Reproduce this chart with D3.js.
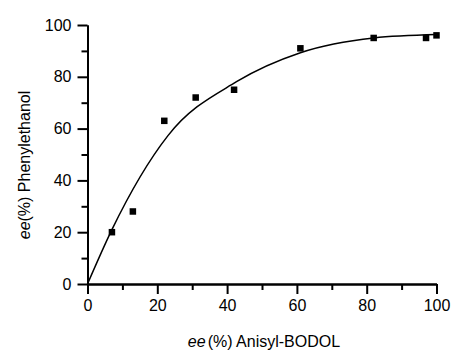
<!DOCTYPE html>
<html>
<head>
<meta charset="utf-8">
<script src="https://cdn.jsdelivr.net/npm/d3@7"></script>
<style>
  body { margin: 0; background: #fff; }
  svg { display: block; font-family: "Liberation Sans", Arial, sans-serif; }
</style>
</head>
<body>
<div id="graph"></div>
<script>
// measured points: ee of auxiliary (x) vs ee of product (y)
const eeAux = [7, 13, 22, 31, 42, 61, 82, 97, 100];
const eeProduct = [20, 28, 63, 72, 75, 91, 95, 95, 96];

// fitted curve
const fitX = [0, 7, 23, 42.7, 61, 82, 100];
const fitY = [0, 21, 57.2, 78.1, 89.3, 95, 96.3];

const majorTicks = [0, 20, 40, 60, 80, 100];
const minorTicks = [10, 30, 50, 70, 90];

const width = 453, height = 351;

const svg = d3.select("#graph")
  .append("svg")
  .attr("width", width)
  .attr("height", height);

const x = d3.scaleLinear().domain([0, 100]).range([87.5, 436.5]);
const y = d3.scaleLinear().domain([0, 100]).range([284, 25]);

// minor ticks first, then major axes on top
svg.append("g")
  .attr("transform", "translate(0,284)")
  .call(d3.axisBottom(x).tickValues(minorTicks).tickSize(6).tickSizeOuter(0).tickFormat(""));

svg.append("g")
  .attr("transform", "translate(87.5,0)")
  .call(d3.axisLeft(y).tickValues(minorTicks).tickSize(6).tickSizeOuter(0).tickFormat(""));

svg.append("g")
  .attr("transform", "translate(0,284)")
  .call(d3.axisBottom(x).tickValues(majorTicks).tickSize(10).tickSizeOuter(0).tickPadding(6));

svg.append("g")
  .attr("transform", "translate(87.5,0)")
  .call(d3.axisLeft(y).tickValues(majorTicks).tickSize(10).tickSizeOuter(0).tickPadding(6));

svg.selectAll(".domain, .tick line")
  .attr("stroke", "#000")
  .attr("stroke-width", 2);

svg.selectAll(".tick text")
  .attr("fill", "#000")
  .style("font-size", "16px")
  .style("font-family", "'Liberation Sans', Arial, sans-serif");

// fitted curve
const line = d3.line()
  .x((d, i) => x(fitX[i]))
  .y((d, i) => y(fitY[i]))
  .curve(d3.curveMonotoneX);

svg.append("path")
  .datum(fitX)
  .attr("d", line)
  .attr("fill", "none")
  .attr("stroke", "#000")
  .attr("stroke-width", 1.5);

// square markers
const s = 6.5;
svg.selectAll("rect.pt")
  .data(eeAux)
  .enter()
  .append("rect")
    .attr("class", "pt")
    .attr("x", (d) => x(d) - s / 2)
    .attr("y", (d, i) => y(eeProduct[i]) - s / 2)
    .attr("width", s)
    .attr("height", s)
    .attr("fill", "#000");

// axis titles
const xTitle = svg.append("text")
  .attr("x", 264)
  .attr("y", 347)
  .attr("text-anchor", "middle")
  .style("font-size", "16px");
xTitle.append("tspan").style("font-style", "italic").text("ee");
xTitle.append("tspan").attr("dx", 2).text("(%) Anisyl-BODOL");

const yTitle = svg.append("text")
  .attr("transform", "translate(30,165) rotate(-90)")
  .attr("text-anchor", "middle")
  .style("font-size", "16px");
yTitle.append("tspan").style("font-style", "italic").text("ee");
yTitle.append("tspan").text("(%) Phenylethanol");
</script>
</body>
</html>
